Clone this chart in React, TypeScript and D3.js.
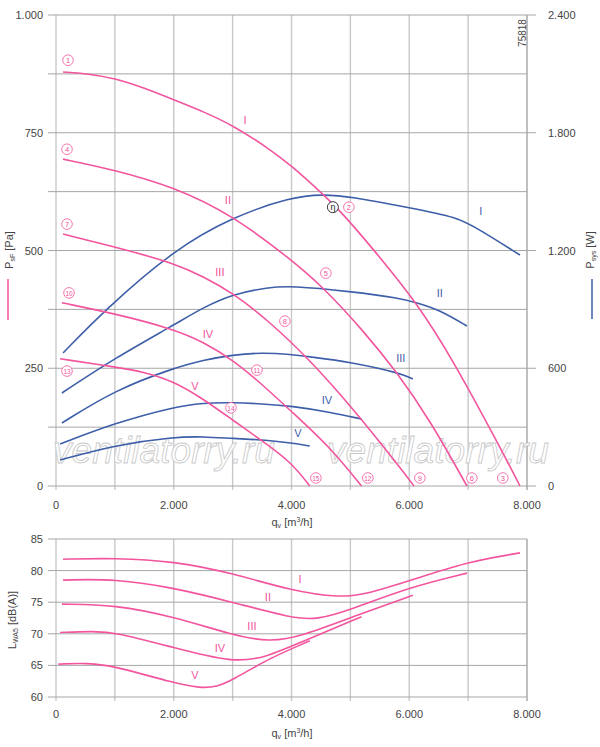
import React from 'react';
import * as d3 from 'd3';

// axis ticks
const qTicks = [0, 2000, 4000, 6000, 8000];
const qGrid = [0, 1000, 2000, 3000, 4000, 5000, 6000, 7000, 8000];
const psfTicks = [0, 250, 500, 750, 1000];
const psfGrid = [0, 125, 250, 375, 500, 625, 750, 875, 1000];
const psysTicks = [0, 600, 1200, 1800, 2400];
const lwaTicks = [60, 65, 70, 75, 80, 85];

// static pressure p_sF [Pa] vs q_v [m3/h]
const psfI = [[120, 879], [500, 876], [1000, 866], [1500, 845], [2000, 820], [2500, 795], [3000, 766], [3600, 718], [4000, 680], [4530, 620], [4860, 580], [5400, 501], [6130, 389], [6740, 268], [7540, 83], [7880, 0]];
const psfII = [[120, 694], [1000, 671], [2000, 635], [3000, 575], [4000, 480], [4530, 423], [5210, 331], [5790, 242], [6350, 140], [6980, 0]];
const psfIII = [[120, 535], [1200, 501], [2000, 473], [2500, 445], [3000, 410], [3600, 352], [4310, 268], [5040, 165], [5840, 40], [6080, 0]];
const psfIV = [[100, 389], [1000, 366], [2000, 333], [2500, 306], [3000, 268], [3500, 216], [4000, 158], [4650, 83], [5190, 0]];
const psfV = [[70, 270], [1000, 253], [1500, 242], [2000, 222], [2500, 185], [3000, 140], [3500, 96], [4000, 50], [4310, 0]];

// power consumption P_sys [W]
const psysI = [[120, 678], [830, 897], [2000, 1203], [3000, 1371], [4000, 1473], [4530, 1486], [5000, 1475], [6010, 1417], [6810, 1371], [7200, 1305], [7880, 1177]];
const psysII = [[100, 474], [1000, 652], [2000, 820], [2500, 910], [3000, 978], [3600, 1012], [4000, 1020], [5000, 991], [5840, 958], [6130, 933], [6520, 897], [6980, 815]];
const psysIII = [[100, 321], [1000, 489], [2000, 601], [2500, 642], [3000, 668], [3500, 680], [4000, 670], [4310, 658], [5000, 632], [5840, 576], [6060, 545]];
const psysIV = [[70, 214], [1000, 321], [2000, 403], [2500, 424], [3000, 425], [3500, 419], [4000, 408], [4650, 377], [5190, 341]];
const psysV = [[70, 132], [1000, 209], [2000, 250], [2500, 252], [3000, 242], [3580, 235], [4000, 219], [4310, 204]];

// sound power L_WA5 [dB(A)]
const lwaI = [[120, 81.8], [1000, 82.0], [2000, 81.5], [3000, 79.6], [4000, 76.8], [4820, 75.7], [5280, 76.3], [6010, 78.4], [6980, 81.4], [7880, 82.8]];
const lwaII = [[120, 78.5], [1000, 78.7], [2000, 77.3], [3000, 75.0], [4000, 72.5], [4430, 72.2], [5000, 73.8], [6010, 77.4], [6980, 79.6]];
const lwaIII = [[100, 74.7], [1000, 74.6], [2000, 72.7], [3000, 69.8], [3630, 68.7], [4140, 69.5], [5160, 73.1], [6060, 76.1]];
const lwaIV = [[70, 70.2], [600, 70.4], [1000, 70.3], [2000, 67.8], [3000, 65.4], [3580, 66.3], [4140, 68.6], [5190, 72.7]];
const lwaV = [[40, 65.2], [530, 65.4], [1000, 64.9], [2000, 62.2], [2450, 61.4], [2730, 61.6], [3000, 62.7], [3580, 65.9], [4140, 68.2], [4310, 68.9]];

// annotations: [label, q, value]
const psfRoman = [['I', 3210, 777], ['II', 2920, 607], ['III', 2784, 454], ['IV', 2581, 323], ['V', 2360, 212]];
const psysRoman = [['I', 7216, 1401], ['II', 6520, 983], ['III', 5857, 652], ['IV', 4601, 438], ['V', 4109, 270]];
const lwaRoman = [['I', 4143, 78.7], ['II', 3599, 75.8], ['III', 3328, 71.2], ['IV', 2784, 67.8], ['V', 2360, 63.5]];
const pointMarks = [
  ['1', 204, 904], ['4', 187, 715], ['7', 187, 556], ['10', 221, 410], ['13', 187, 244],
  ['2', 4975, 592], ['5', 4584, 452], ['8', 3888, 350], ['11', 3413, 246], ['14', 2971, 166],
  ['15', 4414, 17], ['12', 5297, 17], ['9', 6180, 17], ['6', 7063, 17], ['3', 7589, 17],
];
const etaMark = [4703, 592];

const PINK = '#f2559d';
const BLUE = '#3d5ea8';
const TEXT = '#444';
const FONT = 'Liberation Sans, Arial, sans-serif';

const x = d3.scaleLinear().domain([0, 8000]).range([56, 527]);
const yP = d3.scaleLinear().domain([0, 1000]).range([486, 15]);
const yW = d3.scaleLinear().domain([0, 2400]).range([486, 15]);
const yL = d3.scaleLinear().domain([60, 85]).range([697, 539]);

const fmt = (v: number) => d3.format(',')(v).replace(',', '.');

// B-spline smooths out the small reading errors in the sampled points
const lineFor = (y: d3.ScaleLinear<number, number>) =>
  d3.line<number[]>().x(d => x(d[0])).y(d => y(d[1])).curve(d3.curveBasis);

const Grid = ({ y, hLines, top, bottom }: any) => (
  <g>
    {qGrid.map(q => (
      <line key={'v' + q} x1={x(q)} x2={x(q)} y1={top} y2={bottom + 4} stroke="#c9c9c9" strokeWidth={1.4} />
    ))}
    {hLines.map((v: number) => (
      <line key={'h' + v} x1={48} x2={527} y1={y(v)} y2={y(v)} stroke="#a6a6a6" strokeWidth={1} />
    ))}
    <line x1={527} x2={527} y1={top} y2={bottom + 4} stroke="#a6a6a6" strokeWidth={1} />
  </g>
);

const Circled = ({ label, cx, cy }: any) => (
  <g>
    <circle cx={cx} cy={cy} r={5.3} fill="#fff" stroke={PINK} strokeWidth={0.8} />
    <text x={cx} y={cy + 2.7} textAnchor="middle" fontSize={label.length > 1 ? 6.5 : 7.5} fill={PINK} fontFamily={FONT}>
      {label}
    </text>
  </g>
);

const App: React.FC = () => {
  const lp = lineFor(yP);
  const lw = lineFor(yW);
  const ll = lineFor(yL);

  return (
    <svg width={600} height={747} style={{ position: 'absolute', left: 0, top: 0, background: '#fff' }} fontFamily={FONT}>
      {/* upper chart */}
      <Grid y={yP} hLines={psfGrid} top={15} bottom={486} />
      {psfTicks.map(v => (
        <text key={v} x={43} y={yP(v) + 4} textAnchor="end" fontSize={11} fill={TEXT}>{fmt(v)}</text>
      ))}
      {psysTicks.map(v => (
        <g key={v}>
          <line x1={527} x2={536} y1={yW(v)} y2={yW(v)} stroke="#a6a6a6" />
          <text x={548} y={yW(v) + 4} fontSize={11} fill={TEXT}>{fmt(v)}</text>
        </g>
      ))}
      {qTicks.map(q => (
        <text key={q} x={x(q)} y={509} textAnchor="middle" fontSize={11} fill={TEXT}>{fmt(q)}</text>
      ))}
      <text x={292} y={526} textAnchor="middle" fontSize={11} fill={TEXT}>
        q<tspan fontSize={7} dy={2}>v</tspan><tspan dy={-2}> [m</tspan><tspan fontSize={7} dy={-4}>3</tspan><tspan dy={4}>/h]</tspan>
      </text>
      <text transform="translate(13,250) rotate(-90)" textAnchor="middle" fontSize={11} fill={TEXT}>
        P<tspan fontSize={7} dy={2}>sF</tspan><tspan dy={-2}> [Pa]</tspan>
      </text>
      <line x1={8} x2={8} y1={279} y2={320} stroke={PINK} strokeWidth={1.5} />
      <text transform="translate(594,250) rotate(-90)" textAnchor="middle" fontSize={11} fill={TEXT}>
        P<tspan fontSize={7} dy={2}>sys</tspan><tspan dy={-2}> [W]</tspan>
      </text>
      <line x1={592} x2={592} y1={279} y2={319} stroke={BLUE} strokeWidth={1.5} />
      <text transform="translate(526,33) rotate(-90)" textAnchor="middle" fontSize={10} fill={TEXT}>75818</text>

      {/* watermark */}
      {[53, 327].map(wx => (
        <text key={wx} x={wx} y={463} fontSize={36} fontStyle="italic" fill="#fff" stroke="#c8c8c8" strokeWidth={0.8}
          textLength={222} lengthAdjust="spacingAndGlyphs">ventilatorry.ru</text>
      ))}

      {[psysI, psysII, psysIII, psysIV, psysV].map((c, i) => (
        <path key={'w' + i} d={lw(c) || ''} fill="none" stroke={BLUE} strokeWidth={1.6} />
      ))}
      {[psfI, psfII, psfIII, psfIV, psfV].map((c, i) => (
        <path key={'p' + i} d={lp(c) || ''} fill="none" stroke={PINK} strokeWidth={1.6} />
      ))}
      {psfRoman.map(([t, q, v]) => (
        <text key={'pr' + t} x={x(q as number)} y={yP(v as number) + 4} textAnchor="middle" fontSize={11} fill={PINK}>{t}</text>
      ))}
      {psysRoman.map(([t, q, v]) => (
        <text key={'wr' + t} x={x(q as number)} y={yW(v as number) + 4} textAnchor="middle" fontSize={11} fill={BLUE}>{t}</text>
      ))}
      {pointMarks.map(([t, q, v]) => (
        <Circled key={'m' + t} label={t} cx={x(q as number)} cy={yP(v as number)} />
      ))}
      <g>
        <circle cx={x(etaMark[0])} cy={yP(etaMark[1])} r={5.5} fill="#fff" stroke="#222" strokeWidth={0.9} />
        <text x={x(etaMark[0])} y={yP(etaMark[1]) + 3} textAnchor="middle" fontSize={9} fill="#222">η</text>
      </g>

      {/* lower chart */}
      <Grid y={yL} hLines={lwaTicks} top={539} bottom={697} />
      {lwaTicks.map(v => (
        <text key={v} x={43} y={yL(v) + 4} textAnchor="end" fontSize={11} fill={TEXT}>{v}</text>
      ))}
      {qTicks.map(q => (
        <text key={q} x={x(q)} y={718} textAnchor="middle" fontSize={11} fill={TEXT}>{fmt(q)}</text>
      ))}
      <text x={292} y={737} textAnchor="middle" fontSize={11} fill={TEXT}>
        q<tspan fontSize={7} dy={2}>v</tspan><tspan dy={-2}> [m</tspan><tspan fontSize={7} dy={-4}>3</tspan><tspan dy={4}>/h]</tspan>
      </text>
      <text transform="translate(16,620) rotate(-90)" textAnchor="middle" fontSize={11} fill={TEXT}>
        L<tspan fontSize={7} dy={2}>WA5</tspan><tspan dy={-2}> [dB(A)]</tspan>
      </text>
      {[lwaI, lwaII, lwaIII, lwaIV, lwaV].map((c, i) => (
        <path key={'l' + i} d={ll(c) || ''} fill="none" stroke={PINK} strokeWidth={1.6} />
      ))}
      {lwaRoman.map(([t, q, v]) => (
        <text key={'lr' + t} x={x(q as number)} y={yL(v as number) + 4} textAnchor="middle" fontSize={11} fill={PINK}>{t}</text>
      ))}
    </svg>
  );
};

export default App;
